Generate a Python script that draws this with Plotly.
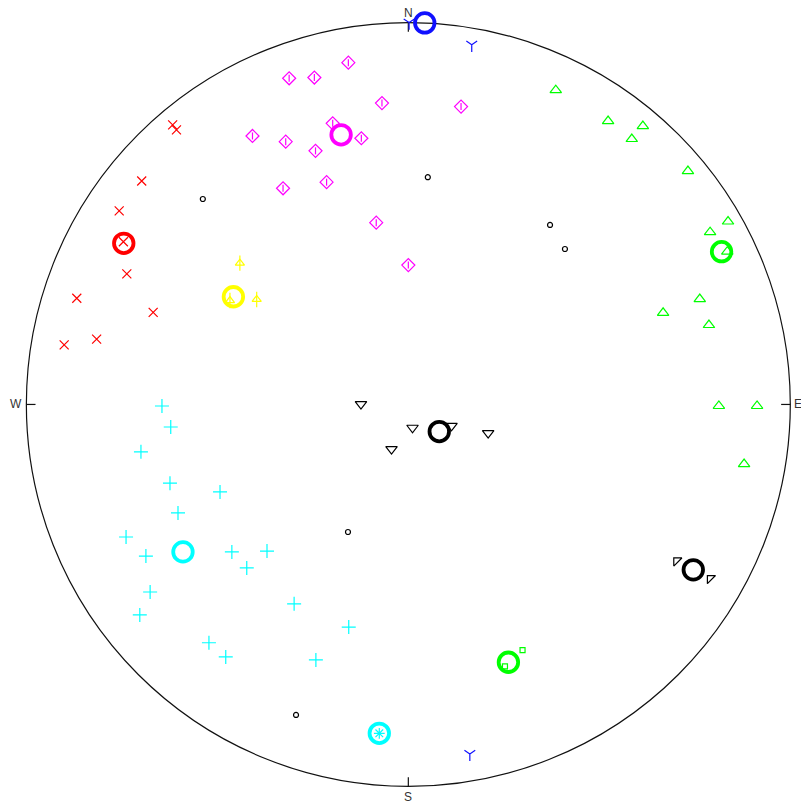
import plotly.graph_objects as go

# Equal-area net coordinates, primitive circle radius = 100
R = 100

# Poles set 1 (magenta diamonds)
mag_x = [-15.7, -31.2, -24.6, -6.9, 13.8, -19.8, -12.3, -40.8, -32.1, -24.3, -21.4, -32.8, -8.4, 0.0]
mag_y = [89.5, 85.4, 85.6, 78.9, 78.0, 73.6, 69.7, 70.3, 68.8, 66.4, 58.2, 56.6, 47.6, 36.5]
mag_mean = (-17.6, 70.6)

# Poles set 2 (red crosses)
red_x = [-61.7, -60.7, -69.8, -75.7, -74.6, -73.7, -86.8, -66.8, -81.6, -90.1]
red_y = [73.2, 71.9, 58.5, 50.7, 42.6, 34.2, 27.8, 24.1, 17.1, 15.6]
red_mean = (-74.5, 42.2)

# Set 3 (yellow arrows)
yel_x = [-44.1, -39.7, -46.7]
yel_y = [37.0, 27.5, 27.2]
yel_mean = (-45.8, 28.2)

# Set 4 (green triangles)
grn_x = [38.6, 52.3, 61.4, 58.5, 73.2, 83.7, 79.0, 83.5, 76.3, 66.7, 78.7, 81.3, 91.3, 87.9]
grn_y = [82.3, 74.2, 72.9, 69.5, 61.1, 47.9, 45.1, 40.0, 27.6, 24.0, 20.8, -0.4, -0.4, -15.6]
grn_mean = (82.0, 40.0)

# Set 5 (green small marks, lower right)
grn2_x = [29.9, 25.3]
grn2_y = [-64.3, -68.6]
grn2_mean = (26.2, -67.5)

# Set 6 (black inverted triangles)
blk_x = [-12.4, 1.1, -4.4, 20.9, 11.3]
blk_y = [0.1, -6.1, -11.7, -7.5, -5.6]
blk_mean = (8.1, -7.1)

# Set 7 (black wedge marks, east-south-east)
blk2_x = [70.2, 79.0]
blk2_y = [-40.9, -45.5]
blk2_mean = (74.6, -43.3)

# Set 8 (cyan crosses)
cyn_x = [-64.5, -62.2, -70.0, -62.4, -49.3, -60.3, -73.9, -68.7, -46.2, -37.0,
         -42.3, -67.6, -70.3, -29.9, -15.6, -52.2, -47.8, -24.2]
cyn_y = [-0.4, -5.9, -12.4, -20.6, -22.9, -28.4, -34.7, -39.7, -38.6, -38.4,
         -42.8, -49.1, -55.1, -52.2, -58.3, -62.4, -66.1, -66.9]
cyn_mean = (-59.0, -38.6)
cyn2_mean = (-7.6, -86.1)

# Set 9 (blue Y marks)
blu_x = [0.2, 16.6, 16.1]
blu_y = [100.0, 94.2, -91.5]
blu_mean = (4.3, 99.9)

# Small black open circles
dot_x = [5.1, -53.8, 37.1, 41.0, -15.8, -29.4]
dot_y = [59.5, 53.8, 47.0, 40.7, -33.4, -81.3]

RED = "#ff0000"
MAG = "#ff00ff"
YEL = "#ffff00"
GRN = "#00ff00"
CYN = "#00ffff"
BLU = "#1010ff"
BLK = "#000000"

fig = go.Figure()


def pts(x, y, symbol, color, size, width=1.2):
    fig.add_trace(go.Scatter(
        x=x, y=y, mode="markers", hoverinfo="skip", showlegend=False,
        marker=dict(symbol=symbol, size=size, color=color,
                    line=dict(color=color, width=width)),
    ))


def mean(p, color, size=19.5, width=3.8):
    pts([p[0]], [p[1]], "circle-open", color, size, width)


pts(mag_x, mag_y, "diamond-open", MAG, 10)
pts(mag_x, mag_y, "line-ns-open", MAG, 5)
pts(red_x, red_y, "x-thin-open", RED, 9)
pts(yel_x, yel_y, "triangle-up-open", YEL, 8)
pts(yel_x, yel_y, "line-ns-open", YEL, 11)
pts(grn_x, grn_y, "triangle-up-open", GRN, 10)
pts(grn2_x, grn2_y, "square-open", GRN, 5)
pts(blk_x, blk_y, "triangle-down-open", BLK, 10)
pts(blk2_x, blk2_y, "triangle-nw-open", BLK, 9)
pts(cyn_x, cyn_y, "cross-thin-open", CYN, 10)
pts(blu_x, blu_y, "y-down-open", BLU, 9)
pts(dot_x, dot_y, "circle-open", BLK, 5)

mean(mag_mean, MAG)
mean(red_mean, RED)
mean(yel_mean, YEL)
mean(grn_mean, GRN)
mean(grn2_mean, GRN)
mean(blk_mean, BLK)
mean(blk2_mean, BLK)
mean(cyn_mean, CYN)
mean(cyn2_mean, CYN)
pts([cyn2_mean[0]], [cyn2_mean[1]], "asterisk-open", CYN, 9)
mean(blu_mean, BLU)

# Primitive circle and cardinal ticks
fig.add_shape(type="circle", x0=-R, y0=-R, x1=R, y1=R,
              line=dict(color="#111111", width=1.2), layer="below")
tick = 2.4
for (x0, y0, x1, y1) in [(0, R, 0, R - tick), (0, -R, 0, -R + tick),
                         (-R, 0, -R + tick, 0), (R, 0, R - tick, 0)]:
    fig.add_shape(type="line", x0=x0, y0=y0, x1=x1, y1=y1,
                  line=dict(color="#111111", width=1.2), layer="below")

for txt, x, y in [("N", 0, 102.5), ("S", 0, -102.8), ("W", -102.8, 0), ("E", 101.9, 0)]:
    fig.add_annotation(x=x, y=y, text=txt, showarrow=False,
                       font=dict(family="Liberation Sans, Arial", size=12, color="#333333"))

fig.update_layout(
    width=801, height=807,
    margin=dict(l=0, r=0, t=0, b=0),
    paper_bgcolor="white", plot_bgcolor="white",
    xaxis=dict(range=[-106.9, 102.8], visible=False, fixedrange=True),
    yaxis=dict(range=[-105.4, 105.9], visible=False, fixedrange=True),
)

fig.write_html("out.html")
